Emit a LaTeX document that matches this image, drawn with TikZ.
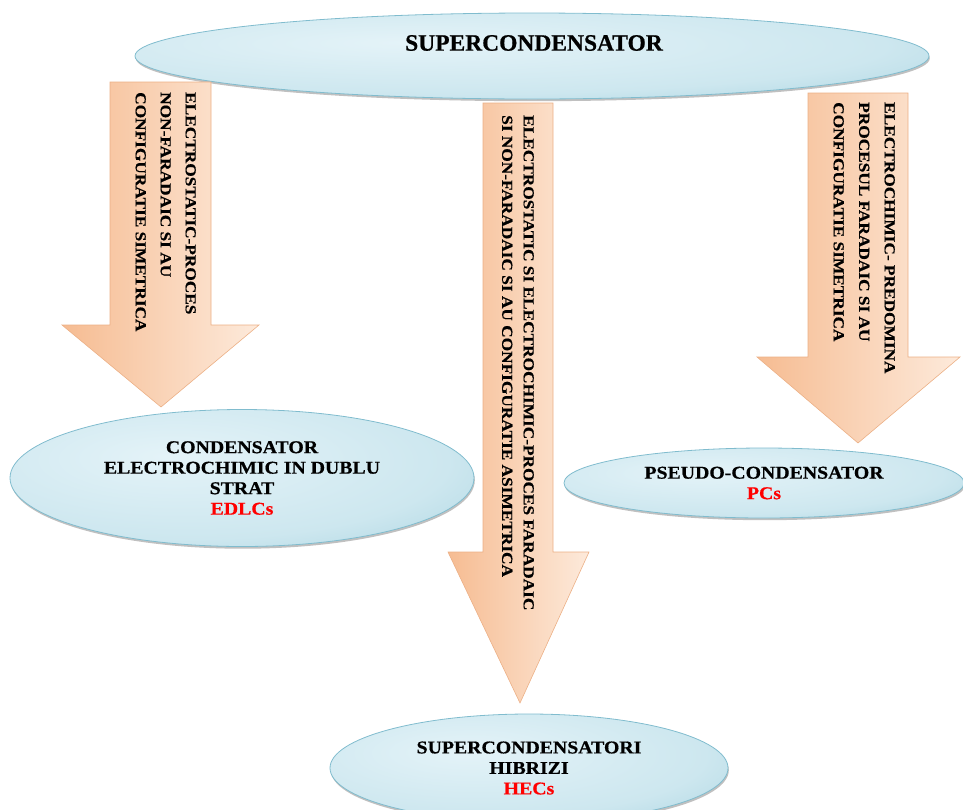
\documentclass[tikz,border=0pt]{standalone}
\usepackage{fontspec}
\setmainfont{Liberation Serif}
\newfontfamily\widefont[FakeStretch=1.1,FakeBold=0.6]{Liberation Serif}
\newfontfamily\arrfont[FakeStretch=1.13,FakeBold=0.6]{Liberation Serif}
\newfontfamily\topfont[FakeBold=0.6]{Liberation Serif}
\usetikzlibrary{shapes.geometric,shadows}
\definecolor{ellin}{RGB}{228,243,248}
\definecolor{ellmid}{RGB}{205,231,239}
\definecolor{ellout}{RGB}{155,204,219}
\definecolor{elledge}{RGB}{128,188,206}
\definecolor{arrL}{RGB}{246,188,146}
\definecolor{arrR}{RGB}{253,234,219}
\definecolor{arredge}{RGB}{236,176,134}
\pgfdeclareradialshading{ellshade}{\pgfpoint{-8bp}{8bp}}{color(0bp)=(ellin); color(28bp)=(ellmid); color(50bp)=(ellout); color(100bp)=(ellout)}
\begin{document}
\begin{tikzpicture}[x=1pt,y=-1pt,
  oval/.style={ellipse, draw=elledge, line width=0.8pt, inner sep=0pt, shading=ellshade,
    drop shadow={shadow xshift=0.8pt, shadow yshift=-2.2pt, fill=black!55, opacity=0.45},
    align=center, font=\widefont\bfseries\fontsize{18}{20.5}\selectfont},
  bigarrow/.style={draw=arredge, line width=0.6pt, left color=arrL, right color=arrR},
  arrtext/.style={rotate=-90, align=left, inner sep=0pt, anchor=north west}]
\clip (0,0) rectangle (963,809);
% top ellipse
\node[oval, minimum width=794pt, minimum height=86pt] (top) at (532,56) {};
\node[font=\topfont\bfseries\fontsize{23.5}{26}\selectfont, inner sep=0pt] (toptext) at (534,43) {SUPERCONDENSATOR};
% arrows
\path[bigarrow] (110,82) -- (211,82) -- (211,325) -- (259,325) -- (161,407) -- (62,325) -- (110,325) -- cycle;
\path[bigarrow] (483,103) -- (553,103) -- (553,552) -- (589,552) -- (520,703) -- (448,552) -- (483,552) -- cycle;
\path[bigarrow] (808,93) -- (908,93) -- (908,357) -- (960,357) -- (858,443) -- (757,357) -- (808,357) -- cycle;
% arrow texts
\node[arrtext, font=\arrfont\bfseries\fontsize{15.3}{25}\selectfont] (tL) at (196,92)
  {ELECTROSTATIC-PROCES\\NON-FARADAIC SI AU\\CONFIGURATIE SIMETRICA};
\node[arrtext, font=\arrfont\bfseries\fontsize{15.3}{21.5}\selectfont] (tM) at (534,115)
  {ELECTROSTATIC SI ELECTROCHIMIC-PROCES FARADAIC\\SI NON-FARADAIC SI AU CONFIGURATIE ASIMETRICA};
\node[arrtext, font=\arrfont\bfseries\fontsize{15.3}{25.5}\selectfont] (tR) at (895,102)
  {ELECTROCHIMIC- PREDOMINA\\PROCESUL FARADAIC SI AU\\CONFIGURATIE SIMETRICA};
% bottom ellipses
\node[oval, minimum width=464pt, minimum height=137pt] (edlc) at (242,478)
  {CONDENSATOR\\ELECTROCHIMIC IN DUBLU\\STRAT\\\textcolor{red}{EDLCs}};
\node[oval, minimum width=400pt, minimum height=70pt] (pc) at (764,483)
  {PSEUDO-CONDENSATOR\\\textcolor{red}{PCs}};
\node[oval, minimum width=398pt, minimum height=108pt] (hec) at (529,768)
  {SUPERCONDENSATORI\\HIBRIZI\\\textcolor{red}{HECs}};
\end{tikzpicture}
\end{document}
